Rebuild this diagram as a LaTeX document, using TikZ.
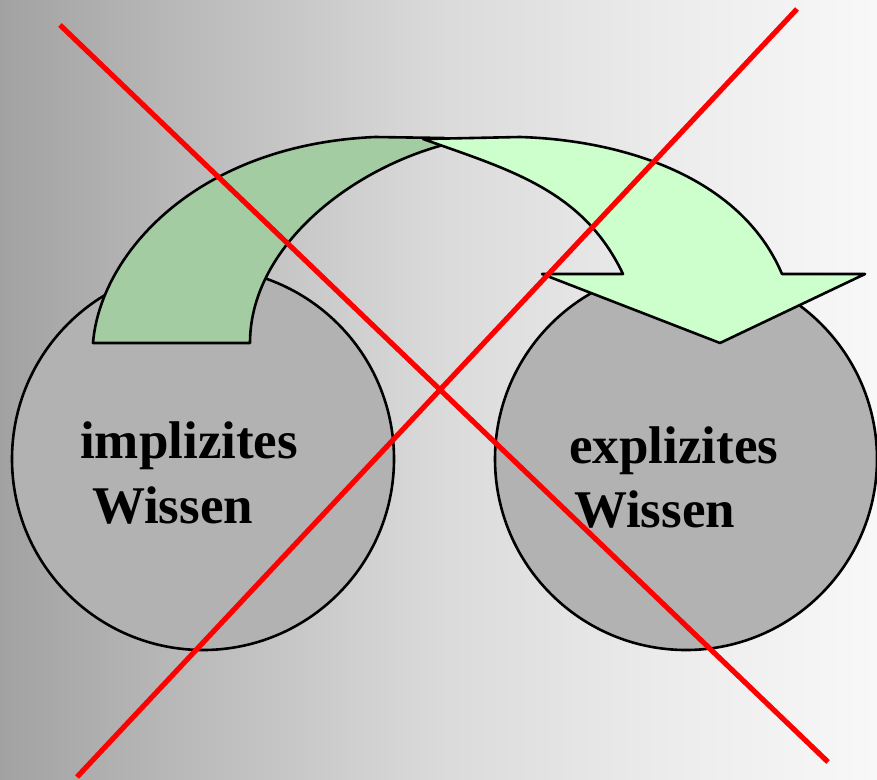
\documentclass[tikz,border=0pt]{standalone}
\usepackage{fontspec}
\setmainfont{Liberation Serif}
\definecolor{bgA}{HTML}{A2A2A2}
\definecolor{bgB}{HTML}{C8C8C8}
\definecolor{bgC}{HTML}{DADADA}
\definecolor{bgD}{HTML}{EBEBEB}
\definecolor{bgE}{HTML}{F8F8F8}
\definecolor{backgreen}{HTML}{A3CCA3}
\definecolor{frontgreen}{HTML}{CCFFCC}
\definecolor{discgray}{HTML}{B2B2B2}
\pgfdeclarehorizontalshading{bgshade}{100bp}{color(0bp)=(bgA); color(25bp)=(bgA); color(42bp)=(bgB); color(50bp)=(bgC); color(62.5bp)=(bgD); color(75bp)=(bgE); color(100bp)=(bgE)}
\tikzset{
  disc/.style={circle, draw=black, line width=2.6pt, fill=discgray, minimum size=382pt, inner sep=0pt},
  band/.style={draw=black, line width=2.6pt, line join=round},
  cross/.style={draw=red, line width=5.2pt},
  label/.style={anchor=base west, inner sep=0pt, font=\fontsize{53}{65}\selectfont\bfseries}
}
\begin{document}
\begin{tikzpicture}[x=1pt,y=-1pt]
\useasboundingbox (0,0) rectangle (877,779);
\shade[shading=bgshade] (0,0) rectangle (877,779);

\node[disc] (left) at (203,459) {};
\node[disc] (right) at (686,459) {};

% back (darker) part of the curved arrow
\path[band, fill=backgreen]
  (93,343) .. controls (100,255) and (195,145) .. (375,137)
  -- (444,138) -- (443,145)
  .. controls (345,172) and (250,250) .. (250,343) -- cycle;

% front (lighter) part with arrow head
\path[band, fill=frontgreen]
  (423,139) -- (520,137)
  .. controls (620,140) and (740,175) .. (782,274)
  -- (865,274) -- (720,343) -- (542,274) -- (623,274)
  .. controls (583,190) and (510,170) .. (423,139) -- cycle;

\node[label] (t1) at (80,458) {implizites};
\node[label] (t2) at (92,523) {Wissen};
\node[label] (t3) at (569,463) {explizites};
\node[label] (t4) at (574,527) {Wissen};

\coordinate (a1) at (60,25);
\coordinate (a2) at (828,762);
\coordinate (b1) at (797,9);
\coordinate (b2) at (77,777);
\draw[cross] (a1) -- (a2);
\draw[cross] (b1) -- (b2);
\end{tikzpicture}
\end{document}
